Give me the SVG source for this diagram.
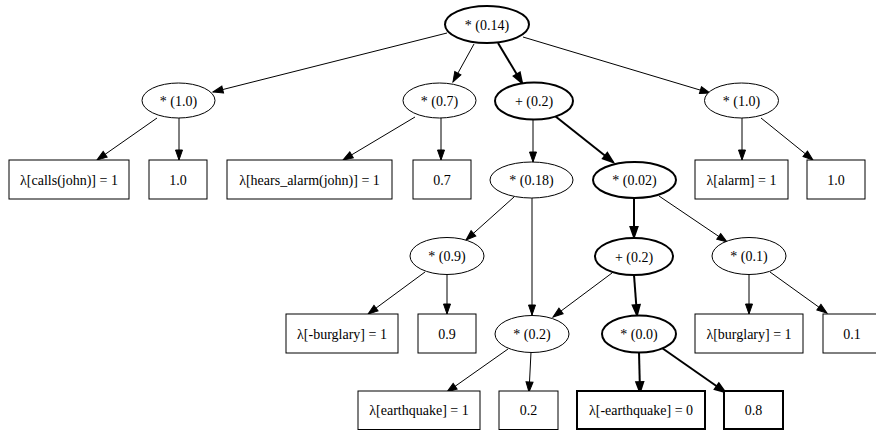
<svg xmlns="http://www.w3.org/2000/svg" width="876" height="430" viewBox="0 0 876 430">
<defs>
<style>
text{font-family:"Liberation Serif","Times New Roman",serif;font-size:14px;text-anchor:middle;fill:#000}
.n{fill:#fff;stroke:#000;stroke-width:1}
.b{fill:#fff;stroke:#000;stroke-width:2}
.e{stroke:#000;stroke-width:1;fill:none;marker-end:url(#a)}
.eb{stroke:#000;stroke-width:2;fill:none;marker-end:url(#ab)}
</style>
<marker id="a" markerUnits="userSpaceOnUse" viewBox="-2 -7 14 14" markerWidth="14" markerHeight="14" refX="10" refY="0" orient="auto"><path d="M0,-3.5L10,0L0,3.5z" fill="#000" stroke="#000" stroke-width="1"/></marker>
<marker id="ab" markerUnits="userSpaceOnUse" viewBox="-3 -8 16 16" markerWidth="16" markerHeight="16" refX="10" refY="0" orient="auto"><path d="M0,-3.5L10,0L0,3.5z" fill="#000" stroke="#000" stroke-width="2"/></marker>
</defs>
<rect width="876" height="430" fill="#fff"/>
<g id="edges">
<path class="e" d="M447,33L213,92"/>
<path class="e" d="M474,44L453,82"/>
<path class="eb" d="M498,43L522,83"/>
<path class="e" d="M523,37L710,93"/>
<path class="e" d="M157,118L97,160"/>
<path class="e" d="M179,118L179,160"/>
<path class="e" d="M415,117L343,160"/>
<path class="e" d="M441,118L441,160"/>
<path class="e" d="M533,120L533,162"/>
<path class="eb" d="M555,116L613,162"/>
<path class="e" d="M742,118L742,160"/>
<path class="e" d="M761,118L813,160"/>
<path class="e" d="M514,197L466,240"/>
<path class="e" d="M532,198L532,315"/>
<path class="eb" d="M634,198L634,237"/>
<path class="e" d="M659,196L727,242"/>
<path class="e" d="M425,272L368,314"/>
<path class="e" d="M447,274L447,314"/>
<path class="e" d="M612,273L553,317"/>
<path class="eb" d="M634,275L637,315"/>
<path class="e" d="M749,274L749,314"/>
<path class="e" d="M770,272L827,313"/>
<path class="e" d="M508,349L447,392"/>
<path class="e" d="M531,352L529,392"/>
<path class="eb" d="M639,352L640,392"/>
<path class="eb" d="M662,348L725,392"/>
</g>
<g id="n_root"><ellipse class="b" cx="487" cy="24.5" rx="42" ry="18.5"/><text x="487" y="29.5">* (0.14)</text></g>
<g id="n_calls_prod"><ellipse class="n" cx="178.5" cy="100.5" rx="36.5" ry="17.5"/><text x="178.5" y="105.5">* (1.0)</text></g>
<g id="n_hears_prod"><ellipse class="n" cx="439.5" cy="100.5" rx="36.5" ry="17.5"/><text x="439.5" y="105.5">* (0.7)</text></g>
<g id="n_sum_top"><ellipse class="b" cx="534" cy="101" rx="39" ry="18.5"/><text x="534" y="106">+ (0.2)</text></g>
<g id="n_alarm_prod"><ellipse class="n" cx="741.5" cy="100.5" rx="37" ry="17.5"/><text x="741.5" y="105.5">* (1.0)</text></g>
<g id="n_calls_lit"><rect class="n" x="9" y="160" width="120" height="39"/><text x="69" y="184.5">λ[calls(john)] = 1</text></g>
<g id="n_calls_w"><rect class="n" x="149" y="160" width="58" height="39"/><text x="178" y="184.5">1.0</text></g>
<g id="n_hears_lit"><rect class="n" x="227" y="160" width="165" height="39"/><text x="309.5" y="184.5">λ[hears_alarm(john)] = 1</text></g>
<g id="n_hears_w"><rect class="n" x="413" y="160" width="58" height="39"/><text x="442" y="184.5">0.7</text></g>
<g id="n_p018"><ellipse class="n" cx="531.5" cy="180" rx="41.5" ry="18"/><text x="531.5" y="185">* (0.18)</text></g>
<g id="n_p002"><ellipse class="b" cx="634.5" cy="180" rx="41.5" ry="18"/><text x="634.5" y="185">* (0.02)</text></g>
<g id="n_alarm_lit"><rect class="n" x="695" y="160" width="93" height="39"/><text x="741.5" y="184.5">λ[alarm] = 1</text></g>
<g id="n_alarm_w"><rect class="n" x="807" y="160" width="58" height="39"/><text x="836" y="184.5">1.0</text></g>
<g id="n_p09"><ellipse class="n" cx="447" cy="256" rx="37" ry="18.5"/><text x="447" y="261">* (0.9)</text></g>
<g id="n_sum_low"><ellipse class="b" cx="634" cy="256.5" rx="39" ry="18.5"/><text x="634" y="261.5">+ (0.2)</text></g>
<g id="n_p01"><ellipse class="n" cx="749" cy="256" rx="37" ry="18.5"/><text x="749" y="261">* (0.1)</text></g>
<g id="n_nburg_lit"><rect class="n" x="286" y="314" width="112" height="39"/><text x="342" y="338.5">λ[-burglary] = 1</text></g>
<g id="n_nburg_w"><rect class="n" x="418" y="314" width="58" height="39"/><text x="447" y="338.5">0.9</text></g>
<g id="n_p02"><ellipse class="n" cx="532" cy="334" rx="37" ry="18.5"/><text x="532" y="339">* (0.2)</text></g>
<g id="n_p00"><ellipse class="b" cx="639" cy="334" rx="37" ry="18.5"/><text x="639" y="339">* (0.0)</text></g>
<g id="n_burg_lit"><rect class="n" x="695" y="314" width="108" height="39"/><text x="749" y="338.5">λ[burglary] = 1</text></g>
<g id="n_burg_w"><rect class="n" x="823" y="314" width="58" height="39"/><text x="852" y="338.5">0.1</text></g>
<g id="n_eq_lit"><rect class="n" x="358" y="391" width="122" height="38.5"/><text x="419" y="415">λ[earthquake] = 1</text></g>
<g id="n_eq_w"><rect class="n" x="499" y="391" width="59" height="38.5"/><text x="528.5" y="415">0.2</text></g>
<g id="n_neq_lit"><rect class="b" x="577" y="391" width="128" height="38"/><text x="641" y="415">λ[-earthquake] = 0</text></g>
<g id="n_neq_w"><rect class="b" x="724" y="391" width="59" height="38"/><text x="753.5" y="415">0.8</text></g>
</svg>
